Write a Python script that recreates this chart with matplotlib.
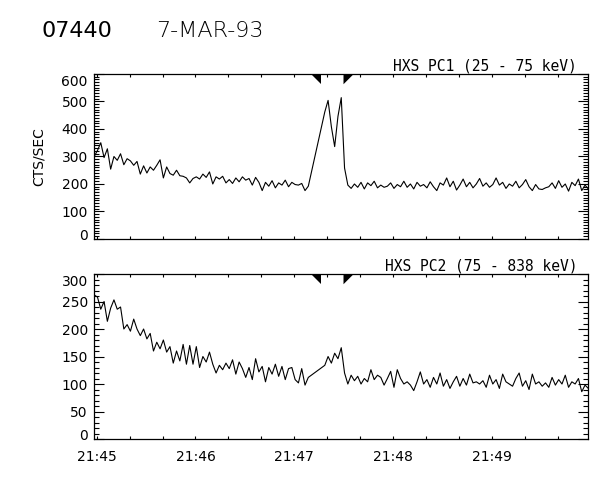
import numpy as np
import matplotlib
matplotlib.use('Agg')
import matplotlib.pyplot as plt
from matplotlib.ticker import MultipleLocator, FuncFormatter
from matplotlib.transforms import ScaledTranslation, blended_transform_factory

# seconds after 21:45:00 UT, 2 s cadence, data gap between the two segments
t_start_pre = -1.5
t_start_post = 138.5
cadence = 2.0

# HXS PC1 (25 - 75 keV), counts/s
pc1_pre = [300, 322, 350, 296, 328, 254, 300, 286, 310, 270,
           292, 284, 268, 282, 236, 266, 240, 262, 250, 268,
           288, 222, 262, 238, 232, 250, 230, 228, 222, 204,
           220, 226, 218, 236, 224, 244, 200, 226, 218, 228,
           204, 216, 202, 222, 208, 226, 214, 220, 196, 224,
           206, 176, 206, 192, 212, 186, 204, 196, 214, 190,
           206, 198, 196, 202, 176, 192]
pc1_post = [462, 504, 408, 336, 446, 514, 258, 196, 184, 200,
            188, 206, 182, 204, 194, 210, 186, 196, 188, 192,
            204, 184, 198, 190, 210, 188, 200, 182, 206, 192,
            198, 186, 208, 190, 176, 204, 196, 222, 190, 210,
            178, 196, 218, 190, 206, 186, 200, 220, 192, 204,
            188, 198, 222, 196, 206, 184, 200, 192, 210, 186,
            198, 216, 190, 176, 198, 182, 180, 186, 190, 204,
            184, 212, 188, 200, 174, 206, 194, 218, 176, 196,
            182]

# HXS PC2 (75 - 838 keV), counts/s
pc2_pre = [262, 258, 236, 250, 214, 238, 253, 236, 240, 200,
           208, 196, 218, 200, 188, 200, 182, 192, 160, 176,
           164, 180, 158, 168, 138, 160, 142, 172, 136, 170,
           136, 168, 130, 150, 140, 158, 136, 120, 134, 126,
           138, 128, 144, 118, 140, 128, 112, 130, 108, 146,
           122, 132, 104, 130, 118, 136, 114, 132, 108, 128,
           130, 108, 102, 128, 98, 112]
pc2_post = [134, 150, 138, 156, 146, 166, 120, 100, 116, 106,
            114, 100, 110, 104, 126, 108, 116, 112, 98, 110,
            123, 94, 126, 110, 100, 104, 98, 88, 104, 122,
            100, 108, 94, 112, 100, 120, 96, 108, 92, 104,
            114, 96, 110, 98, 118, 102, 104, 100, 106, 94,
            116, 100, 108, 92, 118, 104, 100, 96, 110, 120,
            96, 106, 90, 118, 100, 104, 96, 102, 94, 112,
            98, 108, 100, 116, 94, 104, 100, 110, 86, 98,
            92]

# flare interval markers (s after 21:45:00)
flare_marks = [136.5, 149.5]

panel_titles = ['HXS PC1 (25 - 75 keV)', 'HXS PC2 (75 - 838 keV)']
y_ranges = [(0, 600), (0, 300)]
y_steps = [100, 50]

t_pre = t_start_pre + cadence * np.arange(len(pc1_pre))
t_post = t_start_post + cadence * np.arange(len(pc1_post))
t_all = np.concatenate([t_pre, t_post])
series = [np.concatenate([pc1_pre, pc1_post]), np.concatenate([pc2_pre, pc2_post])]

fig = plt.figure(figsize=(6, 4.8), dpi=100)
ax1 = fig.add_axes([0.1567, 0.5021, 0.8233, 0.34375])
ax2 = fig.add_axes([0.1567, 0.0854, 0.8233, 0.34375])

tri_left = [(-1, 0), (0, 0), (0, -1)]
tri_right = [(0, 0), (1, 0), (0, -1)]

for ax, y, title, yr, ys in zip([ax1, ax2], series, panel_titles, y_ranges, y_steps):
    ax.plot(t_all, y, color='black', lw=0.8)
    ax.set_xlim(-1.6, 298.3)
    ax.set_ylim(*yr)
    for s in ax.spines.values():
        s.set_linewidth(0.9)

    ax.tick_params(which='both', direction='in', top=True, right=True, labelsize=10, width=0.8)
    ax.tick_params(axis='x', which='both', length=2.5, pad=8)
    ax.tick_params(axis='y', which='major', length=7, pad=4.5)
    ax.tick_params(axis='y', which='minor', length=3.5)

    ax.xaxis.set_major_locator(MultipleLocator(60))
    ax.xaxis.set_minor_locator(MultipleLocator(20))
    ax.xaxis.set_major_formatter(FuncFormatter(lambda s, pos: f"21:{45 + int(round(s / 60)):02d}"))
    ax.set_yticks(np.arange(yr[0], yr[1] + 1, ys))
    ax.yaxis.set_minor_locator(MultipleLocator(10))

    # end labels pulled inward like the IDL plot
    ticks = ax.yaxis.get_major_ticks()
    ticks[0].label1.set_transform(ticks[0].label1.get_transform() +
                                  ScaledTranslation(0, 3.5 / 72, fig.dpi_scale_trans))
    ticks[-1].label1.set_transform(ticks[-1].label1.get_transform() +
                                   ScaledTranslation(0, -5 / 72, fig.dpi_scale_trans))

    ax.text(0.978, 1.004, title, ha='right', va='bottom', fontsize=10.5,
            family='DejaVu Sans Mono', transform=ax.transAxes)

    trans = blended_transform_factory(ax.transData, ax.transAxes)
    ax.plot([flare_marks[0]], [1], marker=tri_left, markersize=14, color='black',
            mew=0, ls='none', transform=trans, clip_on=False)
    ax.plot([flare_marks[1]], [1], marker=tri_right, markersize=14, color='black',
            mew=0, ls='none', transform=trans, clip_on=False)

ax1.tick_params(axis='x', labelbottom=False)
ax1.set_ylabel('CTS/SEC', fontsize=10)
ax1.yaxis.set_label_coords(-0.097, 0.5)

fig.text(0.0695, 0.922, '07440', fontsize=16, va='baseline')
fig.text(0.261, 0.922, '7-MAR-93', fontsize=16, va='baseline', fontweight='light')

fig.savefig('out.png', dpi=100)
